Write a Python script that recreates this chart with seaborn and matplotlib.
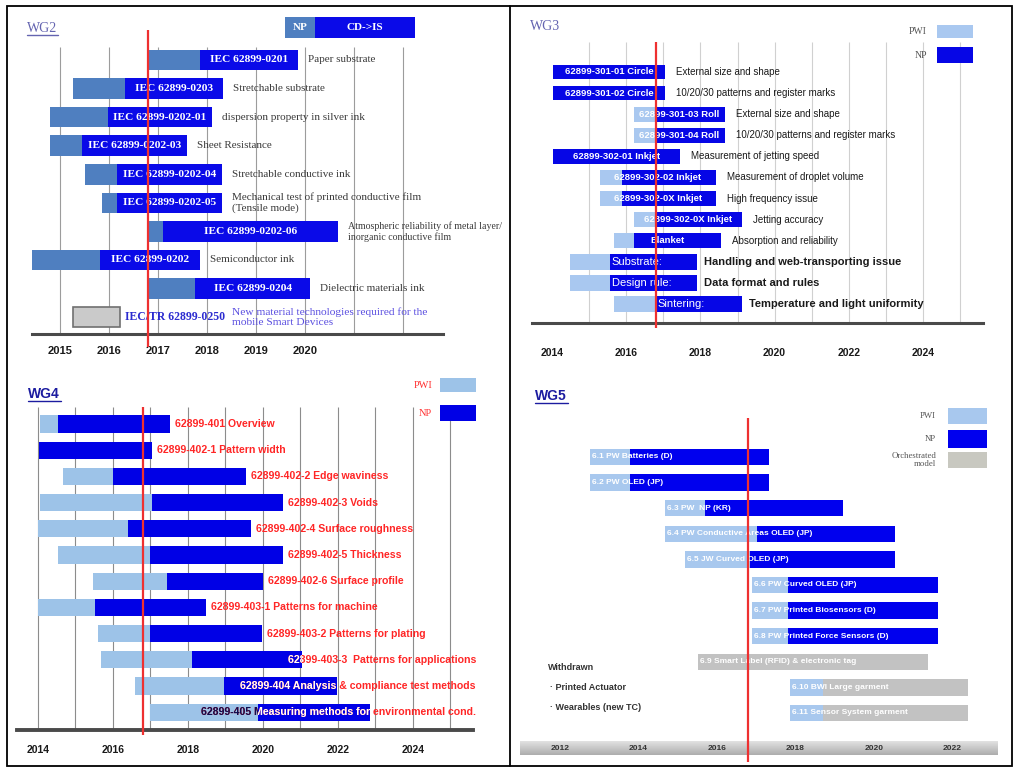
import numpy as np
import matplotlib
matplotlib.use("Agg")
import matplotlib.pyplot as plt
import matplotlib.transforms as mtransforms
from matplotlib.patches import Rectangle
from matplotlib.lines import Line2D
import seaborn as sns

sns.set_style("white")
plt.rcParams["font.family"] = ["Liberation Sans", "DejaVu Sans"]
SERIF = ["Liberation Serif", "DejaVu Serif"]

NOW = 2016.8  # red "today" line

# ---- WG2 ----
wg2_codes = ["IEC 62899-0201", "IEC 62899-0203", "IEC 62899-0202-01", "IEC 62899-0202-03",
             "IEC 62899-0202-04", "IEC 62899-0202-05", "IEC 62899-0202-06", "IEC 62899-0202",
             "IEC 62899-0204"]
wg2_topics = ["Paper substrate", "Stretchable substrate", "dispersion property in silver ink",
              "Sheet Resistance", "Stretchable conductive ink",
              "Mechanical test of printed conductive film\n(Tensile mode)",
              "Atmospheric reliability of metal layer/\ninorganic conductive film",
              "Semiconductor ink", "Dielectric materials ink"]
wg2_pwi = [2016.80, 2015.27, 2014.80, 2014.80, 2015.51, 2015.86, 2016.80, 2014.43, 2016.80]
wg2_np = [2017.86, 2016.33, 2015.98, 2015.45, 2016.16, 2016.16, 2017.10, 2015.82, 2017.76]
wg2_end = [2019.86, 2018.33, 2018.10, 2017.59, 2018.31, 2018.31, 2020.67, 2017.86, 2020.10]
wg2_tr_code = "IEC/TR 62899-0250"
wg2_tr_topic = "New material technologies required for the\nmobile Smart Devices"
wg2_tr_span = [2015.27, 2016.22]
wg2_years = [2015, 2016, 2017, 2018, 2019, 2020]

# ---- WG3 ----
wg3_std_codes = ["62899-301-01 Circle", "62899-301-02 Circle", "62899-301-03 Roll",
                 "62899-301-04 Roll", "62899-302-01 Inkjet", "62899-302-02 Inkjet",
                 "62899-302-0X Inkjet", "62899-302-0X Inkjet", "Blanket"]
wg3_std_topics = ["External size and shape", "10/20/30 patterns and register marks",
                  "External size and shape", "10/20/30 patterns and register marks",
                  "Measurement of jetting speed", "Measurement of droplet volume",
                  "High frequency issue", "Jetting accuracy", "Absorption and reliability"]
wg3_std_pwi = [2014.03, 2014.03, 2016.21, 2016.21, 2014.03, 2015.29, 2015.29, 2016.21, 2015.67]
wg3_std_np = [2014.03, 2014.03, 2016.80, 2016.80, 2014.03, 2015.89, 2015.89, 2016.80, 2016.21]
wg3_std_end = [2017.05, 2017.05, 2018.66, 2018.66, 2017.45, 2018.42, 2018.42, 2019.12, 2018.56]
wg3_issue_names = ["Substrate:", "Design rule:", "Sintering:"]
wg3_issue_topics = ["Handling and web-transporting issue", "Data format and rules",
                    "Temperature and light uniformity"]
wg3_issue_pwi = [2014.49, 2014.49, 2015.67]
wg3_issue_np = [2015.56, 2015.56, 2016.80]
wg3_issue_end = [2017.91, 2017.91, 2019.12]
wg3_years = [2014, 2016, 2018, 2020, 2022, 2024]

# ---- WG4 ----
wg4_labels = ["62899-401 Overview", "62899-402-1 Pattern width", "62899-402-2 Edge waviness",
              "62899-402-3 Voids", "62899-402-4 Surface roughness", "62899-402-5 Thickness",
              "62899-402-6 Surface profile", "62899-403-1 Patterns for machine",
              "62899-403-2 Patterns for plating", "62899-403-3  Patterns for applications",
              "62899-404 Analysis & compliance test methods",
              "62899-405 Measuring methods for environmental cond."]
wg4_pwi = [2014.05, 2014.03, 2014.67, 2014.05, 2014.00, 2014.53, 2015.47, 2014.00, 2015.60,
           2015.68, 2016.59, 2016.99]
wg4_np = [2014.53, 2014.03, 2016.00, 2017.04, 2016.40, 2016.99, 2017.44, 2015.52, 2016.99,
          2018.10, 2018.96, 2019.87]
wg4_end = [2017.52, 2017.04, 2019.55, 2020.53, 2019.68, 2020.53, 2020.00, 2018.48, 2019.97,
           2021.04, 2021.97, 2022.85]
wg4_years = [2014, 2016, 2018, 2020, 2022, 2024]

# ---- WG5 ----
wg5_labels = ["6.1 PW Batteries (D)", "6.2 PW OLED (JP)", "6.3 PW  NP (KR)",
              "6.4 PW Conductive Areas OLED (JP)", "6.5 JW Curved OLED (JP)",
              "6.6 PW Curved OLED (JP)", "6.7 PW Printed Biosensors (D)",
              "6.8 PW Printed Force Sensors (D)", "6.9 Smart Label (RFID) & electronic tag",
              "6.10 BWI Large garment", "6.11 Sensor System garment"]
wg5_pwi = [2012.76, 2012.76, 2014.67, 2014.67, 2015.18, 2016.89, 2016.89, 2016.89, 2015.52,
           2017.86, 2017.86]
wg5_next = [2013.78, 2013.78, 2015.69, 2017.02, 2016.84, 2017.81, 2017.81, 2017.81, 2015.52,
            2018.70, 2018.70]
wg5_end = [2017.33, 2017.33, 2019.21, 2020.54, 2020.54, 2021.64, 2021.64, 2021.64, 2021.38,
           2022.40, 2022.40]
wg5_stage = ["NP"] * 8 + ["Orchestrated"] * 3
wg5_years = [2012, 2014, 2016, 2018, 2020, 2022]
wg5_withdrawn = ["Withdrawn", "\u00b7 Printed Actuator", "\u00b7 Wearables (new TC)"]

W, H = 1018, 772
fig = plt.figure(figsize=(W / 100, H / 100), dpi=100)
renderer = fig.canvas.get_renderer()


def panel(left, top, right, bottom, px0, yr0, ppy, r0, dr):
    ax = fig.add_axes([left / W, 1 - bottom / H, (right - left) / W, (bottom - top) / H])
    ax.set_xlim(yr0 + (left - px0) / ppy, yr0 + (right - px0) / ppy)
    ax.set_ylim((bottom - r0) / dr, (top - r0) / dr)
    ax.patch.set_alpha(0)
    sns.despine(ax=ax, left=True)
    ax.set_yticks([])
    return ax, (lambda y: (y - r0) / dr)


def gantt(ax, pwi, nxt, end, light, dark, height, first=0):
    pwi, nxt, end = map(np.asarray, (pwi, nxt, end))
    rows = np.arange(len(end)) + first
    lb = ax.barh(rows, nxt - pwi, left=pwi, height=height, color=light, lw=0, zorder=2)
    db = ax.barh(rows, end - nxt, left=nxt, height=height, color=dark, lw=0, zorder=3)
    return rows, lb, db


def fit(t, right_px):
    # shrink a label that would run past a panel edge
    x1 = t.get_window_extent(renderer)
    if x1.x1 > right_px:
        t.set_fontsize(t.get_fontsize() * (right_px - x1.x0) / x1.width)


def ftext(x, y, s, **kw):
    fig.text(x / W, 1 - y / H, s, **kw)


def frect(x0, y0, x1, y1, color, **kw):
    fig.add_artist(Rectangle((x0 / W, 1 - y1 / H), (x1 - x0) / W, (y1 - y0) / H,
                             transform=fig.transFigure, color=color, **kw))


def fline(x0, y0, x1, y1, **kw):
    fig.add_artist(Line2D([x0 / W, x1 / W], [1 - y0 / H, 1 - y1 / H],
                          transform=fig.transFigure, **kw))


def baseline(ax, years, pad, size):
    ax.spines["bottom"].set_color("#4a4a4a")
    ax.spines["bottom"].set_linewidth(2.2)
    ax.set_xticks(years, [str(y) for y in years], fontweight="bold", fontsize=size)
    ax.tick_params(axis="x", length=0, pad=pad, labelcolor="#1a1a1a")


# ================= WG2 =================
ax2, row2 = panel(32, 15, 443, 334, 60, 2015, 49, 60, 28.56)
baseline(ax2, wg2_years, 9, 8)
ax2.vlines(range(2015, 2023), row2(334), row2(47), color="#9c9c9c", lw=0.8, zorder=1)
rows, lb, db = gantt(ax2, wg2_pwi, wg2_np, wg2_end, "#4f7fc0", "#0a0ae8", 0.72)
for r, code, topic, s, e in zip(rows, wg2_codes, wg2_topics, wg2_np, wg2_end):
    ax2.text((s + e) / 2, r, code, color="white", fontweight="bold", fontsize=8.2,
             family=SERIF, ha="center", va="center", zorder=5)
    t = ax2.annotate(topic, (e, r), xytext=(7, 0), textcoords="offset points", va="center",
                     ha="left", fontsize=8, family=SERIF, color="#3a3a3a", linespacing=1.15)
    fit(t, 500)
tr = len(wg2_codes)
ax2.barh(tr, wg2_tr_span[1] - wg2_tr_span[0], left=wg2_tr_span[0], height=0.72,
         color="#cacaca", edgecolor="#707070", lw=1.2, zorder=2)
t = ax2.annotate(wg2_tr_code, (wg2_tr_span[1], tr), xytext=(4, 0), textcoords="offset points",
                 va="center", color="#2b2bd0", fontweight="bold", family=SERIF, fontsize=8.5)
t2 = ax2.annotate(wg2_tr_topic, (1, 0.5), xycoords=t, xytext=(5, 0), textcoords="offset points",
                  va="center", color="#5a4ee0", family=SERIF, fontsize=8.2, linespacing=1.1)
fit(t2, 500)
ax2.vlines(NOW, row2(347), row2(30), color="#ee3030", lw=1.6, zorder=6, clip_on=False)

ftext(27, 28, "WG2", family=SERIF, fontsize=10, color="#6464b0", va="center")
fline(27, 35, 58, 35, color="#6464b0", lw=1)
frect(285, 17, 315, 38, "#4f7fc0", lw=0)
frect(315, 17, 415, 38, "#0a0ae8", lw=0)
ftext(300, 27.5, "NP", family=SERIF, fontsize=8, color="white", fontweight="bold",
      ha="center", va="center")
ftext(365, 27.5, "CD->IS", family=SERIF, fontsize=8, color="white", fontweight="bold",
      ha="center", va="center")

# ================= WG3 =================
light3, dark3 = "#a9c8f0", "#0606e6"
ax3, row3 = panel(532, 15, 983, 323, 552, 2014, 37.1, 72, 21.1)
baseline(ax3, wg3_years, 18, 7.5)
ax3.vlines(range(2015, 2026), row3(323), row3(42), color="#d0d0d0", lw=0.8, zorder=1)
rows, lb, db = gantt(ax3, wg3_std_pwi, wg3_std_np, wg3_std_end, light3, dark3, 0.7)
for r, code, topic, s, e in zip(rows, wg3_std_codes, wg3_std_topics, wg3_std_pwi, wg3_std_end):
    ax3.text((s + e) / 2, r, code, color="white", fontweight="bold", fontsize=6.8,
             ha="center", va="center", zorder=5)
    ax3.annotate(topic, (e, r), xytext=(8, 0), textcoords="offset points", va="center",
                 fontsize=7, color="#1a1a1a")
rows, lb, db = gantt(ax3, wg3_issue_pwi, wg3_issue_np, wg3_issue_end, light3, dark3, 0.78,
                     first=len(wg3_std_codes))
for r, name, topic, s, e in zip(rows, wg3_issue_names, wg3_issue_topics, wg3_issue_np,
                                wg3_issue_end):
    ax3.annotate(name, (s, r), xytext=(1.5, 0), textcoords="offset points", va="center",
                 fontsize=8, color="white", zorder=5)
    ax3.annotate(topic, (e, r), xytext=(5, 0), textcoords="offset points", va="center",
                 fontsize=8, fontweight="bold", color="#1a1a1a")
ax3.vlines(NOW, row3(328), row3(42), color="#ee3030", lw=1.6, zorder=6, clip_on=False)

ftext(530, 26, "WG3", family=SERIF, fontsize=10, color="#6464b0", va="center")
for y0, y1, col, lab in [(25, 38, light3, "PWI"), (47, 63, dark3, "NP")]:
    frect(937, y0, 973, y1, col, lw=0)
    ftext(927, (y0 + y1) / 2, lab, family=SERIF, fontsize=7, color="#555555",
          ha="right", va="center")

# ================= WG4 =================
light4, dark4 = "#9dc3e8", "#0000e6"
ax4, row4 = panel(17, 395, 473, 730, 38, 2014, 37.5, 424, 26.2)
baseline(ax4, wg4_years, 8, 7.5)
ax4.spines["bottom"].set_linewidth(2.8)
ax4.set_xticks(range(2014, 2026), minor=True)
ax4.tick_params(axis="x", which="both", length=5, width=1, direction="inout", color="#4a4a4a")
ax4.vlines(range(2014, 2026), row4(730), row4(407), color="#8c8c8c", lw=0.8, zorder=1)
rows, lb, db = gantt(ax4, wg4_pwi, wg4_np, wg4_end, light4, dark4, 0.66)

off = mtransforms.offset_copy(ax4.transData, fig=fig, x=5, y=0, units="dots")
right_limit = 2014 + (476 - 38) / 37.5
for r, lab, lbar, dbar in zip(rows, wg4_labels, lb.patches, db.patches):
    kw = dict(va="center", fontsize=7.6, fontweight="bold")
    t = ax4.text(wg4_end[r], r, lab, color="#ff2626", ha="left", transform=off, zorder=5, **kw)
    if t.get_window_extent(renderer).x1 > 476:
        t.set_transform(ax4.transData)
        t.set_x(right_limit)
        t.set_ha("right")
    for col, patch in (("#0d0d50", lbar), ("white", dbar)):
        c = ax4.text(t.get_position()[0], r, lab, color=col, ha=t.get_ha(),
                     transform=t.get_transform(), zorder=6, **kw)
        c.set_clip_on(True)
        c.set_clip_path(patch)
ax4.vlines(NOW, row4(735), row4(407), color="#ee3030", lw=1.6, zorder=7, clip_on=False)

ftext(28, 394, "WG4", fontsize=10, fontweight="bold", color="#1c1ca0", va="center")
fline(28, 401, 61, 401, color="#1c1ca0", lw=1)
for y0, y1, col, lab in [(378, 392, light4, "PWI"), (405, 421, dark4, "NP")]:
    frect(440, y0, 476, y1, col, lw=0)
    ftext(432, (y0 + y1) / 2, lab, family=SERIF, fontsize=7.5, color="#ff3030",
          ha="right", va="center")

# ================= WG5 =================
light5, dark5, gray5 = "#a8c8ee", "#0000ee", "#c2c2c2"
ax5, row5 = panel(520, 400, 998, 760, 717, 2016, 39.2, 457, 25.6)
ax5.spines["bottom"].set_visible(False)
ax5.set_xticks([])
xl, yl = ax5.get_xlim(), ax5.get_ylim()
grad = np.linspace(0.88, 0.68, 20).reshape(-1, 1)
ax5.imshow(grad, extent=(0, 1, (760 - 755) / 360, (760 - 741) / 360), transform=ax5.transAxes,
           aspect="auto", cmap="gray", vmin=0, vmax=1, zorder=0)
ax5.set_xlim(xl)
ax5.set_ylim(yl)
for y in wg5_years:
    ax5.text(y, (760 - 748) / 360, str(y), transform=ax5.get_xaxis_transform(), ha="center",
             va="center", fontsize=6, fontweight="bold", color="#333333")
stage_colors = [dark5 if s == "NP" else gray5 for s in wg5_stage]
rows, lb, db = gantt(ax5, wg5_pwi, wg5_next, wg5_end, light5, stage_colors, 0.64)
for r, lab, s in zip(rows, wg5_labels, wg5_pwi):
    ax5.annotate(lab, (s, r), xytext=(1.5, 0), textcoords="offset points", va="center",
                 fontsize=6, fontweight="bold", color="white", zorder=5)
ax5.vlines(NOW, row5(762), row5(418), color="#ee3030", lw=1.6, zorder=6, clip_on=False)

ftext(535, 396, "WG5", fontsize=10, fontweight="bold", color="#1c1ca0", va="center")
fline(535, 403, 568, 403, color="#1c1ca0", lw=1)
for y0, y1, col, lab in [(408, 424, light5, "PWI"), (430, 448, dark5, "NP"),
                         (452, 468, "#c8c8c0", "Orchestrated\nmodel")]:
    frect(948, y0, 987, y1, col, lw=0)
    ftext(936, (y0 + y1) / 2, lab, family=SERIF, fontsize=6.3, color="#555555",
          ha="right", va="center", linespacing=1.0)
for i, s in enumerate(wg5_withdrawn):
    ftext(548 + (0 if i == 0 else 2), 667 + 20 * i, s, fontsize=6.5, fontweight="bold",
          color="#333333", va="center")

# frames
fig.add_artist(Rectangle((7 / W, 1 - 766 / H), (1012 - 7) / W, (766 - 6) / H,
                         transform=fig.transFigure, fill=False, ec="black", lw=1.3))
fline(510, 6, 510, 766, color="black", lw=1.3)

fig.savefig("out.png", dpi=100, facecolor="white")
